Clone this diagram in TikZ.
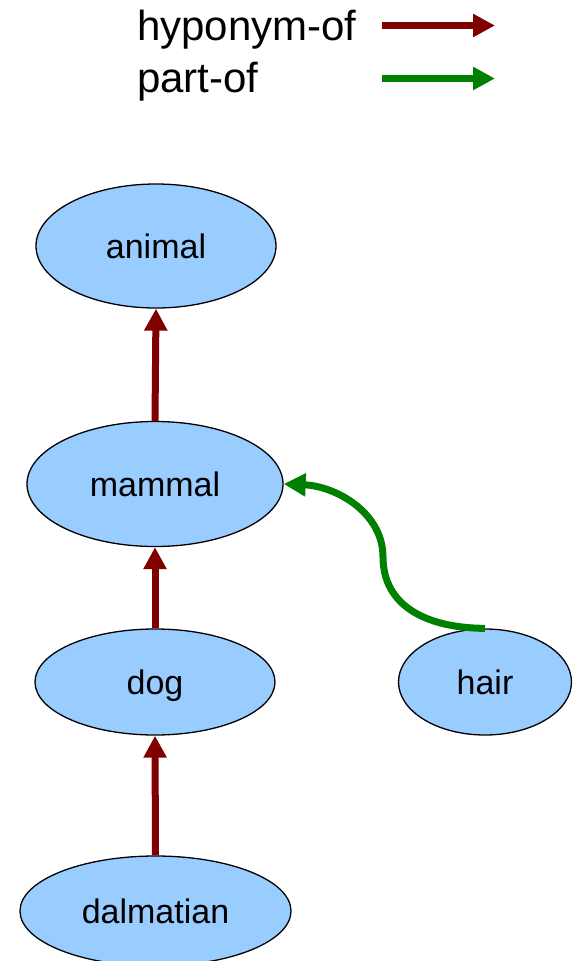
\documentclass[tikz,border=0pt]{standalone}
\usepackage{fontspec}
\setmainfont{Liberation Sans}
\usetikzlibrary{shapes.geometric,arrows.meta}
\definecolor{hypo}{HTML}{800000}
\definecolor{part}{HTML}{008000}
\definecolor{concept}{HTML}{99CCFF}
\tikzset{
  concept/.style={ellipse, draw=black, line width=1.3pt, fill=concept, inner sep=0pt,
    text depth=0pt, font=\fontsize{34}{40}\selectfont},
  legendtext/.style={anchor=base west, inner sep=0pt, font=\fontsize{42}{48}\selectfont},
  hyponym/.style={draw=hypo, line width=7pt, -{Triangle[width=22pt,length=22pt]}},
  partof/.style={draw=part, line width=7pt, -{Triangle[width=22pt,length=22pt]}},
}
\begin{document}
\begin{tikzpicture}[x=1pt,y=-1pt]
\useasboundingbox (0,0) rectangle (573,961);
% legend
\node[legendtext] (lh) at (137,40) {hyponym-of};
\node[legendtext] (lp) at (137,92) {part-of};
\coordinate (lh1) at (382,25.5);
\coordinate (lh2) at (495,25.5);
\coordinate (lp1) at (382,78.5);
\coordinate (lp2) at (495,78.5);
\draw[hyponym] (lh1) -- (lh2);
\draw[partof] (lp1) -- (lp2);
% concepts
\node[concept, minimum width=240pt, minimum height=124pt] (animal) at (156,246) {animal};
\node[concept, minimum width=256pt, minimum height=125pt] (mammal) at (155,484) {mammal};
\node[concept, minimum width=240pt, minimum height=106pt] (dog) at (155,682) {dog};
\node[concept, minimum width=173pt, minimum height=106pt] (hair) at (485,682) {hair};
\node[concept, minimum width=271pt, minimum height=110pt] (dalmatian) at (155.5,911) {dalmatian};
% relations
\draw[hyponym] (mammal.north) -- (animal.south);
\draw[hyponym] (dog.north) -- (mammal.south);
\draw[hyponym] (dalmatian.north) -- (dog.south);
\draw[partof] (hair.north) .. controls (425,628) and (383,605) .. (383,557)
  .. controls (383,512) and (335,486) .. (mammal.east);
\end{tikzpicture}
\end{document}
